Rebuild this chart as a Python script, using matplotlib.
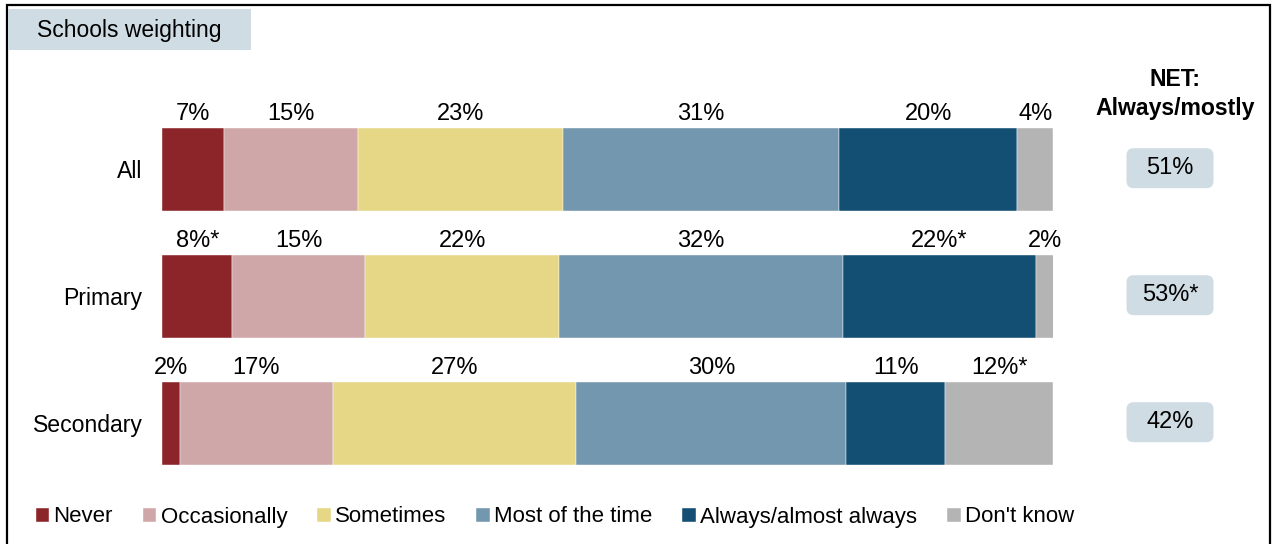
import matplotlib.pyplot as plt
from matplotlib.patches import Rectangle, FancyBboxPatch

plt.rcParams['font.family'] = ['Liberation Sans', 'DejaVu Sans']

groups = ['All', 'Primary', 'Secondary']
answers = ['Never', 'Occasionally', 'Sometimes', 'Most of the time',
           'Always/almost always', "Don't know"]
# bar widths (in %)
shares = [
    [7.0, 15.0, 23.0, 31.0, 20.0, 4.0],
    [7.9, 14.9, 21.8, 31.8, 21.7, 2.0],
    [2.0, 17.2, 27.3, 30.3, 11.1, 12.1],
]
value_labels = [
    ['7%', '15%', '23%', '31%', '20%', '4%'],
    ['8%*', '15%', '22%', '32%', '22%*', '2%'],
    ['2%', '17%', '27%', '30%', '11%', '12%*'],
]
net_labels = ['51%', '53%*', '42%']
colours = ['#8b2529', '#d0a7a8', '#e6d786', '#7397ae', '#124f73', '#b4b4b4']

W, H = 1274, 544
fig = plt.figure(figsize=(W / 100, H / 100), dpi=100)

# axes placed so that 0..100 spans the bar area
ax = fig.add_axes([162 / W, 1 - 480 / H, 891 / W, 420 / H])
ax.set_xlim(0, 100)
ax.set_ylim(2.445, -0.862)

bar_h = 83 / 127
handles = []
for j, ans in enumerate(answers):
    left = [sum(row[:j]) for row in shares]
    vals = [row[j] for row in shares]
    b = ax.barh(range(len(groups)), vals, left=left, height=bar_h,
                color=colours[j], edgecolor='white', linewidth=0.3, label=ans)
    handles.append(b)
    for i in range(len(groups)):
        ax.annotate(value_labels[i][j], (left[i] + vals[i] / 2, i - bar_h / 2),
                    xytext=(0, 6), textcoords='offset points',
                    ha='center', va='baseline', fontsize=17, annotation_clip=False)

ax.set_yticks(range(len(groups)))
ax.set_yticklabels(groups, fontsize=16.6)
ax.tick_params(axis='y', length=0, pad=14)
ax.set_xticks([])
for s in ax.spines.values():
    s.set_visible(False)

# NET column
net_x = (1170 - 162) / 891 * 100
box_w = 87 / 8.91
box_h = 40 / 127
for i, lab in enumerate(net_labels):
    p = FancyBboxPatch((net_x - box_w / 2, i - box_h / 2 - 0.01), box_w, box_h,
                       boxstyle='round,pad=0,rounding_size=0.8',
                       mutation_aspect=8.91 / 127, fc='#d0dce4', ec='none',
                       clip_on=False)
    ax.add_patch(p)
    ax.text(net_x, i - 0.01, lab, ha='center', va='center', fontsize=17)

fig.text(1175 / W, 1 - 80 / H, 'NET:', ha='center', va='center',
         fontsize=16.6, fontweight='bold')
fig.text(1175 / W, 1 - 108 / H, 'Always/mostly', ha='center', va='center',
         fontsize=16.6, fontweight='bold')

# outer frame and header box
fig.patches.append(Rectangle((7 / W, -0.05), 1263 / W, 1.05 - 5 / H,
                             transform=fig.transFigure, fill=False,
                             ec='black', lw=1.6))
fig.patches.append(Rectangle((8 / W, 1 - 50 / H), 243 / W, 41 / H,
                             transform=fig.transFigure, fc='#d0dce4', ec='none'))
fig.text(37 / W, 1 - 30 / H, 'Schools weighting', ha='left', va='center',
         fontsize=16.5)

fig.legend(handles=handles, loc='center', bbox_to_anchor=(555 / W, 1 - 517 / H),
           ncol=6, frameon=False, fontsize=16, handlelength=0.6,
           handleheight=0.6, handletextpad=0.2, columnspacing=1.35,
           borderaxespad=0)

fig.savefig('out.png', dpi=100)
